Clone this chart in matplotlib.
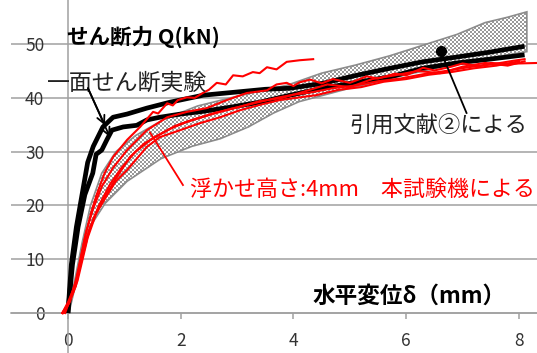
import numpy as np
import matplotlib
matplotlib.use("Agg")
import matplotlib.pyplot as plt
from matplotlib.patches import Polygon

plt.rcParams['font.family'] = ['Noto Sans CJK JP', 'DejaVu Sans']

# 一面せん断実験 (black)
exp1_x = [0, 0.06, 0.15, 0.25, 0.35, 0.45, 0.62, 0.8, 1.05, 1.4, 1.81, 2.4, 3.0, 3.5, 3.94,
          4.52, 5.12, 5.71, 6.29, 6.9, 7.48, 8.1]
exp1_y = [0, 9, 16, 22, 28, 31, 34.6, 36.4, 37.0, 38.1, 39.2, 40.5, 41.1, 41.6, 41.8,
          42.7, 44.2, 45.5, 46.7, 47.6, 48.5, 49.6]
exp2_x = [0, 0.08, 0.18, 0.3, 0.44, 0.5, 0.6, 0.69, 0.78, 0.98, 1.22, 1.4, 1.63, 2.0, 2.4,
          2.9, 3.4, 3.94, 4.52, 5.12, 5.71, 6.29, 6.9, 7.48, 8.1]
exp2_y = [0, 9, 16, 22, 26, 29.5, 30.3, 32.2, 34.0, 34.6, 34.9, 35.9, 36.4, 37.0, 37.5,
          38.3, 39.2, 40.5, 41.8, 42.9, 43.9, 45.5, 46.5, 47.2, 48.0]

# 引用文献② range (hatched band)
ref_up_x = [0, 0.1, 0.25, 0.4, 0.6, 0.85, 1.2, 1.7, 2.3, 3.0, 3.9, 4.5, 5.1, 5.7, 6.3,
            6.9, 7.4, 7.8, 8.14]
ref_up_y = [0, 5, 13, 20, 26, 30, 33, 36, 38.5, 40.3, 42.4, 44.6, 46.1, 47.8, 49.8,
            51.8, 54.0, 55.0, 56.0]
ref_lo_x = [0, 0.04, 0.21, 0.39, 0.66, 1.05, 1.65, 2.2, 2.7, 3.2, 3.65, 4.1, 5.0, 6.0,
            7.0, 8.14]
ref_lo_y = [0, 1, 8.6, 16, 20.4, 24.5, 28.7, 31, 32.4, 34.6, 37.2, 39.3, 41.8, 44.3,
            46.6, 48.6]

# 浮かせ高さ 4mm, 本試験機 (red)
red_runs = [
    ([-0.1, 0.0, 0.12, 0.3, 0.42, 0.51, 0.65, 0.8, 1.05, 1.28, 1.51, 1.6, 1.76, 1.86, 1.95,
      2.11, 2.25, 2.39, 2.5, 2.64, 2.8, 2.93, 3.1, 3.28, 3.4, 3.53, 3.7, 3.88, 4.11, 4.35],
     [0, 2, 5, 14, 19, 22, 26, 29, 32.2, 34.6, 37.4, 37.1, 39.0, 38.6, 39.6,
      40.1, 40.0, 40.9, 41.5, 42.8, 42.5, 44.2, 44.0, 44.8, 44.6, 45.7, 45.3, 46.7, 47.0, 47.2]),
    ([-0.1, 0.02, 0.15, 0.32, 0.45, 0.6, 0.8, 1.05, 1.4, 1.76, 2.11, 2.46, 2.82, 3.17,
      3.53, 3.7, 3.88, 4.0, 4.11, 4.3, 4.5, 4.7, 5.0, 5.3, 5.5, 5.8, 6.0, 6.3, 6.5, 6.8,
      7.0, 7.3, 7.5, 7.8, 8.0, 8.35],
     [0, 2, 6, 15, 19.5, 23.5, 27, 30.3, 34.0, 36.4, 37.4, 38.1, 39.6, 40.9,
      41.4, 42.5, 42.8, 42.2, 42.9, 43.4, 42.7, 43.5, 42.8, 44.0, 43.6, 44.5, 44.2, 45.6,
      45.1, 45.8, 46.4, 45.9, 46.5, 46.3, 46.4, 46.5]),
    ([-0.08, 0.03, 0.17, 0.35, 0.5, 0.7, 0.85, 1.05, 1.4, 1.63, 1.99, 2.34, 2.7, 3.05,
      3.4, 3.76, 4.11, 4.4, 4.8, 5.2, 5.6, 6.0, 6.4, 6.8, 7.2, 7.6, 8.0],
     [0, 2, 6, 14, 18.5, 22, 24.5, 26.6, 30.9, 32.7, 34.0, 35.3, 36.4, 37.7,
      38.7, 39.6, 40.1, 40.5, 41.5, 42.0, 43.0, 43.5, 44.3, 44.8, 45.5, 46.0, 46.8]),
    ([-0.05, 0.05, 0.2, 0.38, 0.55, 0.75, 0.95, 1.2, 1.5, 1.8, 2.1, 2.5, 2.9, 3.3, 3.7,
      4.0, 4.3, 4.7, 5.1, 5.5, 5.9, 6.3, 6.7, 7.1, 7.5, 7.9, 8.1],
     [0, 3, 8, 15.5, 20, 24, 27, 30, 32.5, 34.2, 35.5, 36.8, 38.0, 39.0, 40.0,
      40.6, 41.0, 41.8, 42.3, 43.1, 43.6, 44.4, 45.0, 45.7, 46.2, 46.9, 47.2]),
    ([-0.1, 0.0, 0.14, 0.3, 0.47, 0.65, 0.85, 1.1, 1.35, 1.6, 1.9, 2.2, 2.6, 3.0, 3.4,
      3.8, 4.2, 4.6, 5.0, 5.4, 5.8, 6.2, 6.6, 7.0, 7.4, 7.8, 8.1],
     [0, 1.5, 5, 13, 18, 21.5, 25, 29, 31.5, 33.0, 34.8, 35.9, 37.2, 38.2, 39.4,
      40.0, 41.2, 42.5, 42.0, 43.5, 44.2, 45.0, 44.6, 45.8, 46.5, 46.0, 46.8]),
]

yticks = [0, 10, 20, 30, 40, 50]
xticks = [0, 2, 4, 6, 8]

W, H = 537, 353
XLIM = (-1.01, 8.32)
YLIM = (-7.43, 58.2)
grid_c = '#a0a0a0'

fig = plt.figure(figsize=(W / 100, H / 100), dpi=100)
rect = [11 / W, 0, 526 / W, 1]

# back layer: axes lines, ticks, grid
ax0 = fig.add_axes(rect, zorder=0)
ax0.set_xlim(*XLIM)
ax0.set_ylim(*YLIM)
for s in ['top', 'right']:
    ax0.spines[s].set_visible(False)
ax0.spines['left'].set_position(('data', 0))
ax0.spines['bottom'].set_position(('data', 0))
for s in ['left', 'bottom']:
    ax0.spines[s].set_color(grid_c)
    ax0.spines[s].set_linewidth(1.1)
ax0.set_yticks(yticks)
ax0.set_xticks(xticks)
ax0.tick_params(axis='y', length=0, pad=17, labelsize=12.5, labelcolor='#333333')
ax0.tick_params(axis='x', direction='out', length=4.5, width=1.1, color=grid_c,
                pad=9, labelsize=12.5, labelcolor='#333333')
ax0.yaxis.grid(True, color=grid_c, lw=1.1)
ax0.set_axisbelow(True)

# front layer: data and annotations
ax = fig.add_axes(rect, zorder=2)
ax.set_xlim(*XLIM)
ax.set_ylim(*YLIM)
ax.patch.set_visible(False)
ax.axis('off')

band_xy = np.column_stack([ref_up_x + ref_lo_x[::-1], ref_up_y + ref_lo_y[::-1]])
band = Polygon(band_xy, closed=True, facecolor='none', edgecolor='#8c8c8c', lw=1.2, zorder=3)
ax.add_patch(band)

# checker texture for the band, placed between the two layers
ii, jj = np.mgrid[0:H, 0:W]
on = ((ii // 2 + jj // 2) % 2 == 0)
checker = np.where(on[..., None], np.array([1.0, 1.0, 1.0]), np.array([0.6, 0.6, 0.6]))
tex = fig.figimage(checker, xo=0, yo=0, origin='lower', zorder=1)
tex.set_clip_path(band)

ax.plot(exp1_x, exp1_y, color='black', lw=3.4, zorder=4, solid_capstyle='butt')
ax.plot(exp2_x, exp2_y, color='black', lw=3.4, zorder=4, solid_capstyle='butt')
for rx, ry in red_runs:
    ax.plot(rx, ry, color='#ff0000', lw=1.5, zorder=5)

# labels
ax.text(-0.01, 51.3, 'せん断力 Q(kN)', fontsize=15.5, fontweight='bold', color='black',
        ha='left', va='center', zorder=6)
ax.text(4.34, 3.1, '水平変位δ（mm）', fontsize=16.3, fontweight='bold', color='black',
        ha='left', va='center', zorder=6)
ax.text(1.04, 42.7, '一面せん断実験', fontsize=16.5, color='#222222', ha='center',
        va='center', zorder=6)
ax.text(5.0, 34.8, '引用文献②による', fontsize=16, color='#222222', ha='left',
        va='center', zorder=6)
ax.text(2.16, 22.8, '浮かせ高さ:4mm\u3000本試験機による', fontsize=15.8, color='#ff0000',
        ha='left', va='center', zorder=6)

# leader lines
for tip in [(0.656, 34.9), (0.745, 32.7)]:
    ax.annotate('', xy=tip, xytext=(0.355, 41.8),
                arrowprops=dict(arrowstyle='->', color='black', lw=1.3,
                                shrinkA=0, shrinkB=0, mutation_scale=14), zorder=7)
ax.plot([6.61, 7.07], [48.7, 37.2], color='black', lw=1.3, zorder=7)
ax.plot([6.61], [48.7], 'o', color='black', ms=7, zorder=7)
ax.plot([1.454, 2.04], [33.6, 23.8], color='#ff0000', lw=1.3, zorder=7)

fig.savefig('out.png', dpi=100)
